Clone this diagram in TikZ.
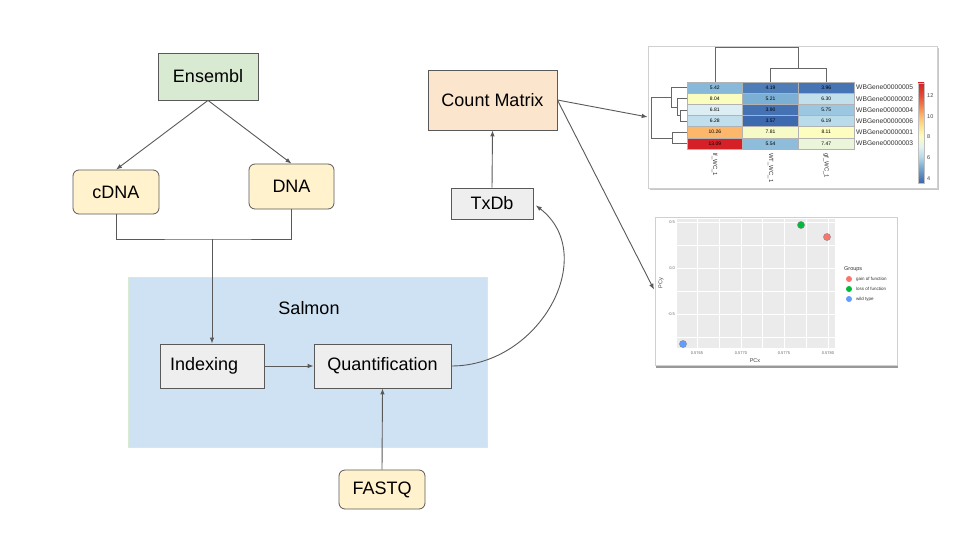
\documentclass[tikz,border=0pt]{standalone}
\usepackage{fontspec}
\setmainfont{Liberation Sans}
\usetikzlibrary{arrows.meta}
\definecolor{linegray}{HTML}{595959}
\definecolor{ensgreen}{HTML}{D9EAD3}
\definecolor{yellowbox}{HTML}{FFF2CC}
\definecolor{graybox}{HTML}{EEEEEE}
\definecolor{salmonblue}{HTML}{CFE2F3}
\definecolor{peach}{HTML}{FCE5CD}
\definecolor{framegray}{HTML}{D0D0D0}
\definecolor{panelgray}{HTML}{EBEBEB}
% heatmap cell colours
\definecolor{v357}{HTML}{3D69AE}
\definecolor{v390}{HTML}{4572B3}
\definecolor{v396}{HTML}{4674B4}
\definecolor{v419}{HTML}{4E7DB8}
\definecolor{v521}{HTML}{7CAFD4}
\definecolor{v542}{HTML}{88B8DA}
\definecolor{v554}{HTML}{8EBCDB}
\definecolor{v575}{HTML}{9CC7E1}
\definecolor{v619}{HTML}{BADBEA}
\definecolor{v628}{HTML}{C0DEEC}
\definecolor{v630}{HTML}{C2DFEC}
\definecolor{v681}{HTML}{DCEEF3}
\definecolor{v747}{HTML}{EBF5DA}
\definecolor{v781}{HTML}{F6FAC6}
\definecolor{v804}{HTML}{FBFDBF}
\definecolor{v811}{HTML}{FCFDBE}
\definecolor{v1026}{HTML}{FDB76B}
\definecolor{v1309}{HTML}{D62027}
% colour bar stops
\definecolor{cb0}{HTML}{3A66AC}
\definecolor{cb1}{HTML}{78ACD2}
\definecolor{cb2}{HTML}{B4D8E9}
\definecolor{cb3}{HTML}{E4F2F1}
\definecolor{cb4}{HTML}{FBFDBF}
\definecolor{cb5}{HTML}{FEE194}
\definecolor{cb6}{HTML}{FDB96D}
\definecolor{cb7}{HTML}{F47D4B}
\definecolor{cb8}{HTML}{E34A33}
\definecolor{cb9}{HTML}{D62027}
\definecolor{ptred}{HTML}{F8766D}
\definecolor{ptgreen}{HTML}{00BA38}
\definecolor{ptblue}{HTML}{619CFF}
\pgfdeclareverticalshading{cbarshade}{100bp}{color(0bp)=(cb0); color(25bp)=(cb0); color(32.8bp)=(cb1); color(37.9bp)=(cb2); color(43.1bp)=(cb3); color(48.3bp)=(cb4); color(53.5bp)=(cb5); color(58.6bp)=(cb6); color(63.8bp)=(cb7); color(69bp)=(cb8); color(75bp)=(cb9); color(100bp)=(cb9)}
\tikzset{
  box/.style={draw=linegray, line width=0.8pt, inner sep=0pt, font=\fontsize{18}{20}\selectfont},
  rbox/.style={box, rounded corners=6pt, fill=yellowbox},
  conn/.style={draw=linegray, line width=0.9pt, -{Latex[length=6pt,width=4.5pt]}},
  plain/.style={draw=linegray, line width=0.9pt},
  frame/.style={draw=framegray, line width=0.6pt, fill=white, inner sep=0pt},
  cell/.style={draw=black!30, line width=0.4pt},
  cellnum/.style={font=\fontsize{5}{6}\selectfont, inner sep=0pt},
  genelab/.style={font=\fontsize{6.7}{8}\selectfont, anchor=west, inner sep=0pt, text=black!80},
  collab/.style={font=\fontsize{6}{7}\selectfont, anchor=west, rotate=-90, inner sep=0pt, text=black!80},
  dendro/.style={draw=black!60, line width=0.6pt},
  tinylab/.style={font=\fontsize{4}{5}\selectfont, inner sep=0pt, text=black!60},
  leglab/.style={font=\fontsize{4.5}{5}\selectfont, anchor=west, inner sep=0pt, text=black!80},
  pt/.style={draw=black!45, line width=0.4pt},
}
\begin{document}
\begin{tikzpicture}[x=1pt,y=-1pt]
\useasboundingbox (0,0) rectangle (960,540);
\fill[white] (0,0) rectangle (960,540);

% Salmon container
\node[draw=ensgreen, fill=salmonblue, line width=0.6pt, minimum width=359pt, minimum height=170pt, inner sep=0pt] (salmon) at (307.5,362) {};
\node[font=\fontsize{18}{20}\selectfont, inner sep=0pt] (salmonlab) at (309,308) {Salmon};

% boxes
\node[box, fill=ensgreen, minimum width=100pt, minimum height=47pt] (ens) at (208,76.5) {Ensembl};
\node[rbox, minimum width=86pt, minimum height=44pt] (cdna) at (116,192) {cDNA};
\node[rbox, minimum width=85pt, minimum height=45pt] (dna) at (291.5,186.5) {DNA};
\node[box, fill=graybox, minimum width=104pt, minimum height=44pt, text width=84pt, align=left] (idx) at (212,366) {Indexing};
\node[box, fill=graybox, minimum width=137pt, minimum height=44pt] (qf) at (382.5,366) {Quantification};
\node[rbox, minimum width=86pt, minimum height=39pt] (fastq) at (382,489.5) {FASTQ};
\node[box, fill=peach, minimum width=129pt, minimum height=60pt] (cm) at (492.5,100) {Count Matrix};
\node[box, fill=graybox, minimum width=82pt, minimum height=31pt] (txdb) at (492,203.5) {TxDb};

% connectors
\coordinate (mj) at (212,239);
\draw[conn] (ens.south) -- (cdna.north);
\draw[conn] (ens.south) -- (dna.north);
\draw[plain] (cdna.south) |- (mj) -| (dna.south);
\draw[conn] (mj) -- (idx.north);
\draw[conn] (idx.east) -- (qf.west);
\draw[conn] (fastq.north) -- (qf.south);
\draw[conn] (txdb.north) -- (cm.south);
\draw[conn, shorten >=3pt] (qf.east) .. controls (540,366) and (600,255) .. (txdb.east);

% ---------- heatmap figure ----------
\fill[black!22] (650,48) rectangle (939,190);
\node[frame, minimum width=289pt, minimum height=142pt] (hm) at (792.5,117) {};
% cells
\foreach \r/\ca/\ta/\cb/\tb/\cc/\tc in {
  0/v542/5.42/v419/4.19/v396/3.96,
  1/v804/8.04/v521/5.21/v630/6.30,
  2/v681/6.81/v390/3.90/v575/5.75,
  3/v628/6.28/v357/3.57/v619/6.19,
  4/v1026/10.26/v781/7.81/v811/8.11,
  5/v1309/13.09/v554/5.54/v747/7.47}{
  \pgfmathsetmacro{\ytop}{82+11.17*\r}
  \pgfmathsetmacro{\ybot}{82+11.17*(\r+1)}
  \pgfmathsetmacro{\ymid}{82+11.17*(\r+0.5)}
  \draw[cell, fill=\ca] (687,\ytop) rectangle (742.67,\ybot);
  \draw[cell, fill=\cb] (742.67,\ytop) rectangle (798.33,\ybot);
  \draw[cell, fill=\cc] (798.33,\ytop) rectangle (854,\ybot);
  \node[cellnum] at (714.8,\ymid) {\ta};
  \node[cellnum] at (770.5,\ymid) {\tb};
  \node[cellnum] at (826.2,\ymid) {\tc};
}
\foreach \r/\g in {0/WBGene00000005,1/WBGene00000002,2/WBGene00000004,3/WBGene00000006,4/WBGene00000001,5/WBGene00000003}{
  \pgfmathsetmacro{\ymid}{82+11.17*(\r+0.5)}
  \node[genelab] at (856,\ymid) {\g};
}
\node[collab] at (714.8,153) {lf\_WC\_1};
\node[collab] at (770.5,153) {WT\_WC\_1};
\node[collab] at (826.2,153) {gf\_WC\_1};
% column dendrogram
\draw[dendro] (714.8,82) -- (714.8,47) -- (798.3,47) -- (798.3,68);
\draw[dendro] (770.5,82) -- (770.5,68) -- (826.2,68) -- (826.2,82);
% row dendrogram
\draw[dendro] (687,109.9) -- (680,109.9) -- (680,121.1) -- (687,121.1);
\draw[dendro] (687,98.8) -- (677,98.8) -- (677,115.5) -- (680,115.5);
\draw[dendro] (687,87.6) -- (671,87.6) -- (671,107.1) -- (677,107.1);
\draw[dendro] (687,132.3) -- (672,132.3) -- (672,143.4) -- (687,143.4);
\draw[dendro] (671,97.4) -- (651,97.4) -- (651,137.9) -- (672,137.9);
% colour bar
\shade[shading=cbarshade] (918,83) rectangle (924,183);
\draw[black!25, line width=0.3pt] (918,83) rectangle (924,183);
\foreach \v/\yy in {12/95.5,10/116.2,8/136.9,6/157.6,4/178.3}{
  \node[font=\fontsize{5.5}{6}\selectfont, anchor=west, inner sep=0pt, text=black!75] at (927,\yy) {\v};
}

% ---------- PCA figure ----------
\fill[black!40] (656,220) rectangle (898,368);
\node[frame, minimum width=242pt, minimum height=148pt] (pca) at (776,291) {};
\fill[panelgray] (677,219) rectangle (835,348);
\foreach \xx in {719,762.5,806}{\draw[white, line width=0.3pt] (\xx,219) -- (\xx,348);}
\foreach \yy in {245,291,337}{\draw[white, line width=0.3pt] (677,\yy) -- (835,\yy);}
\foreach \xx in {697,741,784,828}{\draw[white, line width=0.7pt] (\xx,219) -- (\xx,348);}
\foreach \yy in {222,268,314}{\draw[white, line width=0.7pt] (677,\yy) -- (835,\yy);}
\node[tinylab, anchor=east] at (675,222) {0.5};
\node[tinylab, anchor=east] at (675,268) {0.0};
\node[tinylab, anchor=east] at (675,314) {-0.5};
\node[tinylab] at (697,353) {0.5765};
\node[tinylab] at (741,353) {0.5770};
\node[tinylab] at (784,353) {0.5775};
\node[tinylab] at (828,353) {0.5780};
\node[font=\fontsize{5.5}{6}\selectfont, inner sep=0pt, text=black!75] at (755,361) {PCx};
\node[font=\fontsize{5.5}{6}\selectfont, inner sep=0pt, text=black!75, rotate=90] at (661,283) {PCy};
\draw[pt, fill=ptgreen] (801,225) circle (3.6pt);
\draw[pt, fill=ptred] (827,237) circle (3.6pt);
\draw[pt, fill=ptblue] (683,344) circle (3.6pt);
\node[font=\fontsize{5.5}{6}\selectfont, anchor=west, inner sep=0pt, text=black!80] at (844,269) {Groups};
\fill[ptred] (849,279) circle (3pt);
\fill[ptgreen] (849,289) circle (3pt);
\fill[ptblue] (849,299) circle (3pt);
\node[leglab] at (856,279) {gain of function};
\node[leglab] at (856,289) {loss of function};
\node[leglab] at (856,299) {wild type};

% arrows to figures
\draw[conn] (cm.east) -- (hm.west);
\draw[conn, shorten >=1.5pt] (cm.east) -- (pca.west);
\end{tikzpicture}
\end{document}
